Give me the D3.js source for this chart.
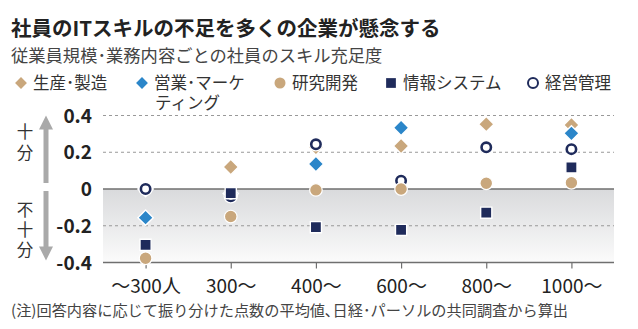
<!DOCTYPE html>
<html>
<head>
<meta charset="utf-8">
<script src="https://cdn.jsdelivr.net/npm/d3@7"></script>
<style>
  body { margin: 0; background: #fff; }
  svg { display: block; font-family: "Noto Sans CJK JP", "Noto Sans", sans-serif; }
</style>
</head>
<body>
<div id="wrapper"></div>
<script>
// Data
const categories = ["〜300人", "300〜", "400〜", "600〜", "800〜", "1000〜"];
const production = [0.0, 0.12, 0.227, 0.234, 0.353, 0.348];
const sales = [-0.156, -0.025, 0.136, 0.333, 0.227, 0.303];
const management = [0.0, -0.04, 0.243, 0.045, 0.227, 0.217];
const research = [-0.377, -0.15, -0.005, 0.0, 0.031, 0.034];
const infoSystems = [-0.304, -0.023, -0.208, -0.223, -0.129, 0.118];
const yTicks = [-0.4, -0.2, 0, 0.2, 0.4];
const yTickLabels = ["-0.4", "-0.2", "0", "0.2", "0.4"];

const tan = "#c9a77c";
const blue = "#2b86c9";
const navy = "#1f2b5b";

// Series drawn in this order (last on top)
const series = [
  { name: "生産･製造", values: production, shape: "diamond", color: tan },
  { name: "営業･マーケ", values: sales, shape: "diamond", color: blue },
  { name: "経営管理", values: management, shape: "ring", color: navy },
  { name: "研究開発", values: research, shape: "circle", color: tan },
  { name: "情報システム", values: infoSystems, shape: "square", color: navy },
];

const width = 638;
const height = 329;
const plot = { left: 103, right: 614, top: 115.5, bottom: 262.5 };

const svg = d3.select("#wrapper").append("svg")
  .attr("width", width)
  .attr("height", height);

// Titles
svg.append("text")
  .attr("x", 11).attr("y", 36)
  .attr("font-size", 20.5).attr("font-weight", 700).attr("fill", "#222")
  .text("社員のITスキルの不足を多くの企業が懸念する");

svg.append("text")
  .attr("x", 11).attr("y", 62)
  .attr("font-size", 17.3).attr("fill", "#444")
  .text("従業員規模･業務内容ごとの社員のスキル充足度");

// Scales
const xScale = d3.scalePoint()
  .domain(categories)
  .range([plot.left, plot.right])
  .padding(0.5);

const yScale = d3.scaleLinear()
  .domain([-0.4, 0.4])
  .range([plot.bottom, plot.top]);

// Shaded negative area
const defs = svg.append("defs");
const grad = defs.append("linearGradient")
  .attr("id", "negGrad")
  .attr("x1", 0).attr("y1", 0).attr("x2", 0).attr("y2", 1);
grad.append("stop").attr("offset", "0%").attr("stop-color", "#d9dadc");
grad.append("stop").attr("offset", "100%").attr("stop-color", "#fbfbfb");

svg.append("rect")
  .attr("x", plot.left)
  .attr("y", yScale(0))
  .attr("width", plot.right - plot.left)
  .attr("height", yScale(-0.4) - yScale(0))
  .attr("fill", "url(#negGrad)");

// Gridlines
svg.append("g")
  .selectAll("line")
  .data(yTicks.filter((d) => d !== 0 && d !== -0.4))
  .join("line")
  .attr("x1", plot.left).attr("x2", plot.right)
  .attr("y1", (d) => yScale(d)).attr("y2", (d) => yScale(d))
  .attr("stroke", "#999")
  .attr("stroke-width", 1)
  .attr("stroke-dasharray", "3 3");

svg.append("g")
  .selectAll("line")
  .data([0, -0.4])
  .join("line")
  .attr("x1", plot.left).attr("x2", plot.right)
  .attr("y1", (d) => yScale(d)).attr("y2", (d) => yScale(d))
  .attr("stroke", "#6f6f6f")
  .attr("stroke-width", 1.3);

// Y tick labels
svg.append("g")
  .selectAll("text")
  .data(yTicks)
  .join("text")
  .attr("x", 92)
  .attr("y", (d) => yScale(d) + 7)
  .attr("text-anchor", "end")
  .attr("font-size", 19)
  .attr("font-weight", 700)
  .attr("fill", "#222")
  .text((d, i) => yTickLabels[i]);

// X axis
const xAxis = svg.append("g")
  .attr("transform", `translate(0,${plot.bottom})`)
  .call(d3.axisBottom(xScale).tickSize(6).tickPadding(6));
xAxis.select(".domain").remove();
xAxis.selectAll(".tick line").attr("stroke", "#6f6f6f").attr("stroke-width", 1.2);
xAxis.selectAll(".tick text")
  .attr("font-family", "Noto Sans CJK JP")
  .attr("font-size", 19)
  .attr("fill", "#222")
  .attr("dy", "0.95em");

// Side arrows
const arrowX = 46;
const arrows = svg.append("g").attr("fill", "#a9a9a9");
arrows.append("rect").attr("x", arrowX - 2.5).attr("y", yScale(0.4) + 12).attr("width", 5).attr("height", yScale(0) - 6 - yScale(0.4) - 12);
arrows.append("path").attr("d", `M${arrowX},${yScale(0.4)} L${arrowX + 7},${yScale(0.4) + 14} L${arrowX - 7},${yScale(0.4) + 14} Z`);
arrows.append("rect").attr("x", arrowX - 2.5).attr("y", yScale(0) + 2).attr("width", 5).attr("height", yScale(-0.4) - 14 - yScale(0) - 2);
arrows.append("path").attr("d", `M${arrowX},${yScale(-0.4) - 2} L${arrowX + 7},${yScale(-0.4) - 16} L${arrowX - 7},${yScale(-0.4) - 16} Z`);

// Vertical side labels
const sideLabels = svg.append("g")
  .attr("font-size", 16.5).attr("fill", "#333");
sideLabels.append("text")
  .attr("x", 25).attr("y", 123)
  .style("writing-mode", "vertical-rl")
  .attr("letter-spacing", 4.5)
  .text("十分");
sideLabels.append("text")
  .attr("x", 25).attr("y", 201)
  .style("writing-mode", "vertical-rl")
  .attr("letter-spacing", 3.5)
  .text("不十分");

// Marker drawing
function drawMarker(g, shape, color) {
  if (shape === "diamond") {
    g.append("path")
      .attr("d", d3.symbol(d3.symbolSquare, 118)())
      .attr("transform", "rotate(45)")
      .attr("fill", color)
      .attr("stroke", "#fff").attr("stroke-width", 1.4);
  } else if (shape === "square") {
    g.append("path")
      .attr("d", d3.symbol(d3.symbolSquare, 125)())
      .attr("fill", color)
      .attr("stroke", "#fff").attr("stroke-width", 1.4);
  } else if (shape === "circle") {
    g.append("circle")
      .attr("r", 6.3)
      .attr("fill", color)
      .attr("stroke", "#fff").attr("stroke-width", 1.2);
  } else if (shape === "ring") {
    g.append("circle").attr("r", 7.2).attr("fill", "#fff");
    g.append("circle")
      .attr("r", 4.7)
      .attr("fill", "#fff")
      .attr("stroke", color).attr("stroke-width", 2.6);
  }
}

series.forEach((s) => {
  svg.append("g")
    .selectAll("g")
    .data(s.values)
    .join("g")
    .attr("transform", (d, i) => `translate(${xScale(categories[i])},${yScale(d)})`)
    .each(function () { drawMarker(d3.select(this), s.shape, s.color); });
});

// Legend
const legendItems = [
  { label: ["生産･製造"], shape: "diamond", color: tan, x: 21 },
  { label: ["営業･マーケ", "ティング"], shape: "diamond", color: blue, x: 142 },
  { label: ["研究開発"], shape: "circle", color: tan, x: 280 },
  { label: ["情報システム"], shape: "square", color: navy, x: 391 },
  { label: ["経営管理"], shape: "ring", color: navy, x: 533 },
];
const legend = svg.append("g");
legendItems.forEach((item) => {
  const g = legend.append("g").attr("transform", `translate(${item.x},83)`);
  if (item.shape === "diamond") {
    g.append("path").attr("d", d3.symbol(d3.symbolSquare, 70)()).attr("transform", "rotate(45)").attr("fill", item.color);
  } else if (item.shape === "square") {
    g.append("path").attr("d", d3.symbol(d3.symbolSquare, 95)()).attr("fill", item.color);
  } else if (item.shape === "circle") {
    g.append("circle").attr("r", 5.5).attr("fill", item.color);
  } else {
    g.append("circle").attr("r", 5).attr("fill", "#fff").attr("stroke", item.color).attr("stroke-width", 2);
  }
  const t = g.append("text")
    .attr("y", 6)
    .attr("font-size", 16.5)
    .attr("fill", "#333");
  item.label.forEach((line, i) => {
    t.append("tspan")
      .attr("x", 12 + (i > 0 ? 1 : 0))
      .attr("dy", i > 0 ? 20 : 0)
      .text(line);
  });
});

// Note
svg.append("text")
  .attr("x", 11).attr("y", 316)
  .attr("font-size", 15.2)
  .attr("fill", "#444")
  .text("(注)回答内容に応じて振り分けた点数の平均値､日経･パーソルの共同調査から算出");
</script>
</body>
</html>
